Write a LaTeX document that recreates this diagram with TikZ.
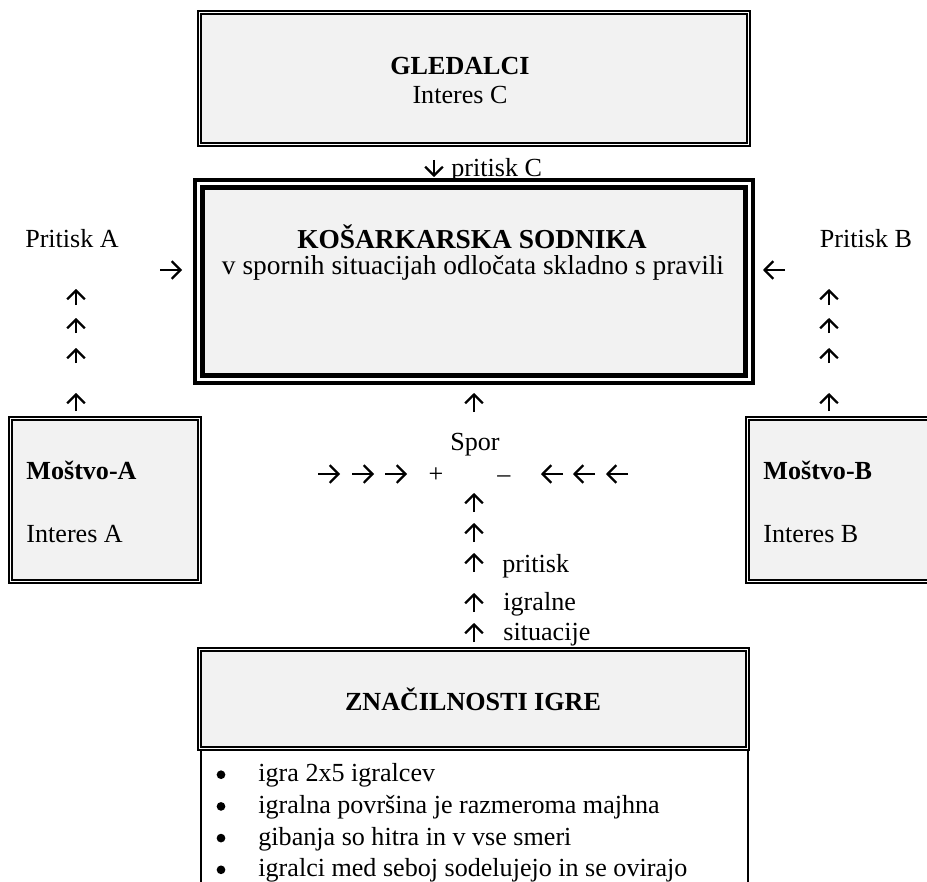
\documentclass[tikz,border=0pt]{standalone}
\usepackage{fontspec}
\setmainfont{Liberation Serif}
\usetikzlibrary{arrows.meta}
\definecolor{boxgray}{RGB}{242,242,242}

\begin{document}
\begin{tikzpicture}[x=0.46pt,y=-0.46pt,
  every node/.style={font=\fontsize{12}{14}\selectfont,inner sep=0pt},
  dim/.style 2 args={minimum width=#1*0.46pt,minimum height=#2*0.46pt},
  thinbox/.style={draw,fill=boxgray,line width=0.8pt,double,double distance=0.8pt},
  heavybox/.style={draw,fill=boxgray,line width=1.9pt,double,double distance=1.5pt},
  big/.style={font=\fontsize{12.6}{14}\selectfont},
  dot/.style={circle,fill,minimum size=4pt},
  ar/.style={-{Straight Barb[length=4pt,width=8.2pt]},line width=1.05pt}]
  \useasboundingbox (0,0) rectangle (927,881);
  \clip (0,0) rectangle (927,881);

  % boxes
  \node[thinbox,dim={548.8}{131.8}] (G) at (474,78.5) {};
  \node[heavybox,dim={550.4}{195.4}] (S) at (474,281.5) {};
  \node[thinbox,dim={188.8}{162.8}] (MA) at (105,500) {};
  \node[thinbox,dim={187}{162.8}] (MB) at (841,500) {};
  \draw[line width=0.75pt] (201,750) -- (201,900) (748,750) -- (748,900);
  \node[thinbox,dim={547.8}{98.8}] (Z) at (473.5,699) {};

  % texts
  \node[anchor=base] (Gt) at (460,75) {\textbf{GLEDALCI}};
  \node[anchor=base] (Gi) at (460,104) {Interes C};
  \node[anchor=base west] (pC) at (451,177) {pritisk C};
  \node[anchor=base,big] (St) at (472,248) {\textbf{KOŠARKARSKA SODNIKA}};
  \node[anchor=base,big] (Si) at (473,274) {v spornih situacijah odločata skladno s pravili};
  \node[anchor=base] (pA) at (72,247) {Pritisk A};
  \node[anchor=base] (pB) at (866,247) {Pritisk B};
  \node[anchor=base west] (MAt) at (26,479) {\textbf{Moštvo-A}};
  \node[anchor=base west] (MAi) at (26,542) {Interes A};
  \node[anchor=base west] (MBt) at (763,479) {\textbf{Moštvo-B}};
  \node[anchor=base west] (MBi) at (763,542) {Interes B};
  \node[anchor=base] (spor) at (475,450) {Spor};
  \node[anchor=base] (plus) at (436,482) {+};
  \node[anchor=base] (minus) at (504,482) {–};
  \node[anchor=base west] (p1) at (502,572) {pritisk};
  \node[anchor=base west] (p2) at (503,610) {igralne};
  \node[anchor=base west] (p3) at (503,640) {situacije};
  \node[anchor=base] (Zt) at (473,710) {\textbf{ZNAČILNOSTI IGRE}};
  \foreach \t [count=\i] in {igra 2x5 igralcev,igralna površina je razmeroma majhna,
    gibanja so hitra in v vse smeri,igralci med seboj sodelujejo in se ovirajo} {
    \node[dot] (b\i) at (221,{743+31.7*\i}) {};
    \node[anchor=base west] (l\i) at (258,{750+31.7*\i}) {\t};
  }

  % arrows
  \foreach \yb/\yt in {305/289,333/318,363/348,411/393} {
    \draw[ar] (76,\yb) -- (76,\yt);
    \draw[ar] (829,\yb) -- (829,\yt);
  }
  \draw[ar] (160,270) -- (182,270);
  \draw[ar] (785,270) -- (763,270);
  \draw[ar] (434,160) -- (434,177);
  \draw[ar] (474,412) -- (474,393);
  \foreach \xa in {318,352,385} \draw[ar] (\xa,474) -- ++(22,0);
  \foreach \xa in {563,595,628} \draw[ar] (\xa,474) -- ++(-22,0);
  \foreach \yb in {512,542,572,612,642} \draw[ar] (474,\yb) -- ++(0,-19);
\end{tikzpicture}
\end{document}
